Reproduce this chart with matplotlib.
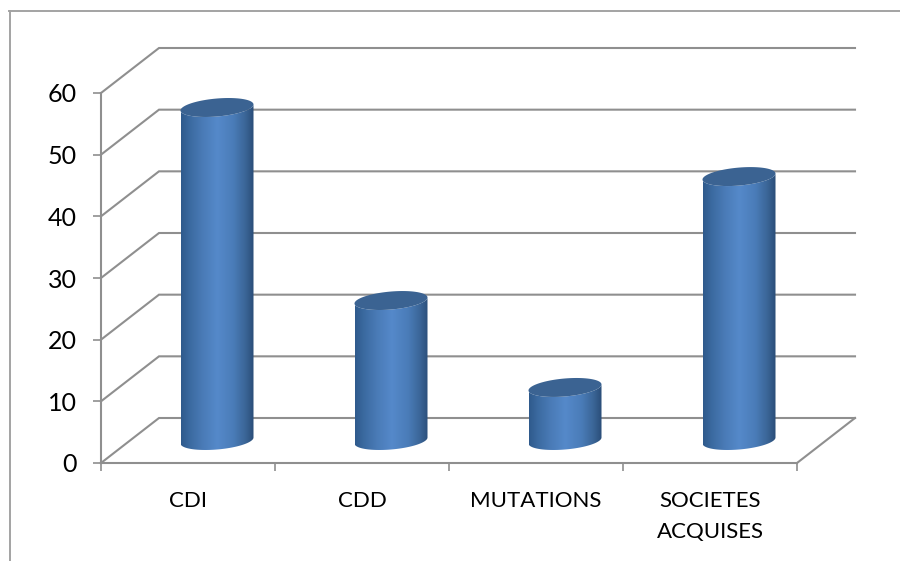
import matplotlib
matplotlib.use('Agg')
import matplotlib.pyplot as plt
import numpy as np
from matplotlib.colors import LinearSegmentedColormap
from matplotlib.lines import Line2D
from matplotlib.patches import PathPatch
from matplotlib.path import Path

plt.rcParams['font.family'] = ['Lato', 'DejaVu Sans']

categories = ['CDI', 'CDD', 'MUTATIONS', 'SOCIETES\nACQUISES']
values = [54, 22.7, 8.6, 42.8]
y_ticks = [0, 10, 20, 30, 40, 50, 60]

W, H = 900, 561
GRID = '#8f8f8f'
# depth of the fake 3d floor, in data units
depth_x = 58 / 174
depth_y = 45 / 6.167

fig = plt.figure(figsize=(W / 100, H / 100), dpi=100, facecolor='w')
ax = fig.add_axes([101 / W, 1 - 463 / H, 696 / W, 370 / H])
ax.patch.set_visible(False)

# outer chart frame
fig.add_artist(Line2D([9.5 / W, 9.5 / W], [0, 1 - 11 / H], color='#a3a3a3', lw=1.4))
fig.add_artist(Line2D([9 / W, 1], [1 - 11 / H, 1 - 11 / H], color='#a3a3a3', lw=1.4))

n = len(categories)
for t in y_ticks:
    ax.plot([0, depth_x, n + depth_x], [t, t + depth_y, t + depth_y],
            color=GRID, lw=1.5, clip_on=False, zorder=1, solid_joinstyle='miter')
ax.plot([n, n + depth_x], [0, depth_y], color=GRID, lw=1.5, clip_on=False, zorder=1)

cmap = LinearSegmentedColormap.from_list('cyl', [
    (0.0, '#2f5a8c'), (0.12, '#3b6aa0'), (0.3, '#4a7bb7'), (0.5, '#5589ca'),
    (0.72, '#4a7cb8'), (0.88, '#3b6698'), (1.0, '#2a4d78')])
grad = np.linspace(0, 1, 256).reshape(1, -1)

half_w = 36.5 / 174
minor_y = 9 / 6.167
shear_y = 3 / 6.167
ts = np.linspace(0, 2 * np.pi, 121)


def rim(cx, cy, t):
    return cx + half_w * np.cos(t), cy + shear_y * np.cos(t) + minor_y * np.sin(t)


for i, v in enumerate(values):
    cx = i + 0.5 + depth_x / 2
    base = depth_y / 2
    top = base + v
    # body outline: lower half of the base rim, then back along the top rim
    low = np.linspace(np.pi, 2 * np.pi, 60)
    bx, by = rim(cx, base, low)
    tx, ty = rim(cx, top, low[::-1])
    body = PathPatch(Path(np.r_[np.c_[bx, by], np.c_[tx, ty], [[bx[0], by[0]]]]),
                     fc='none', ec='none', transform=ax.transData)
    ax.add_patch(body)
    im = ax.imshow(grad, cmap=cmap, aspect='auto', zorder=3,
                   extent=[cx - half_w, cx + half_w, base - 3, top + 3])
    im.set_clip_path(body)
    ex, ey = rim(cx, top, ts)
    ax.fill(ex, ey, color='#3b6392', lw=0, zorder=4)

ax.set_xlim(0, n)
ax.set_ylim(0, 60)

for s in ['top', 'right']:
    ax.spines[s].set_visible(False)
for s in ['left', 'bottom']:
    ax.spines[s].set_color(GRID)
    ax.spines[s].set_linewidth(1.5)

ax.set_yticks(y_ticks)
ax.tick_params(axis='y', length=5.5, width=1.2, color=GRID, labelsize=18, pad=12, labelcolor='k')
ax.set_xticks(range(n + 1))
ax.set_xticklabels([])
ax.tick_params(axis='x', which='major', length=5.5, width=1.2, color=GRID)
ax.set_xticks(np.arange(n) + 0.5, minor=True)
ax.set_xticklabels(categories, minor=True, fontsize=16, linespacing=1.7)
ax.tick_params(axis='x', which='minor', length=0, pad=20, labelcolor='k')

fig.savefig('out.png', dpi=100)
